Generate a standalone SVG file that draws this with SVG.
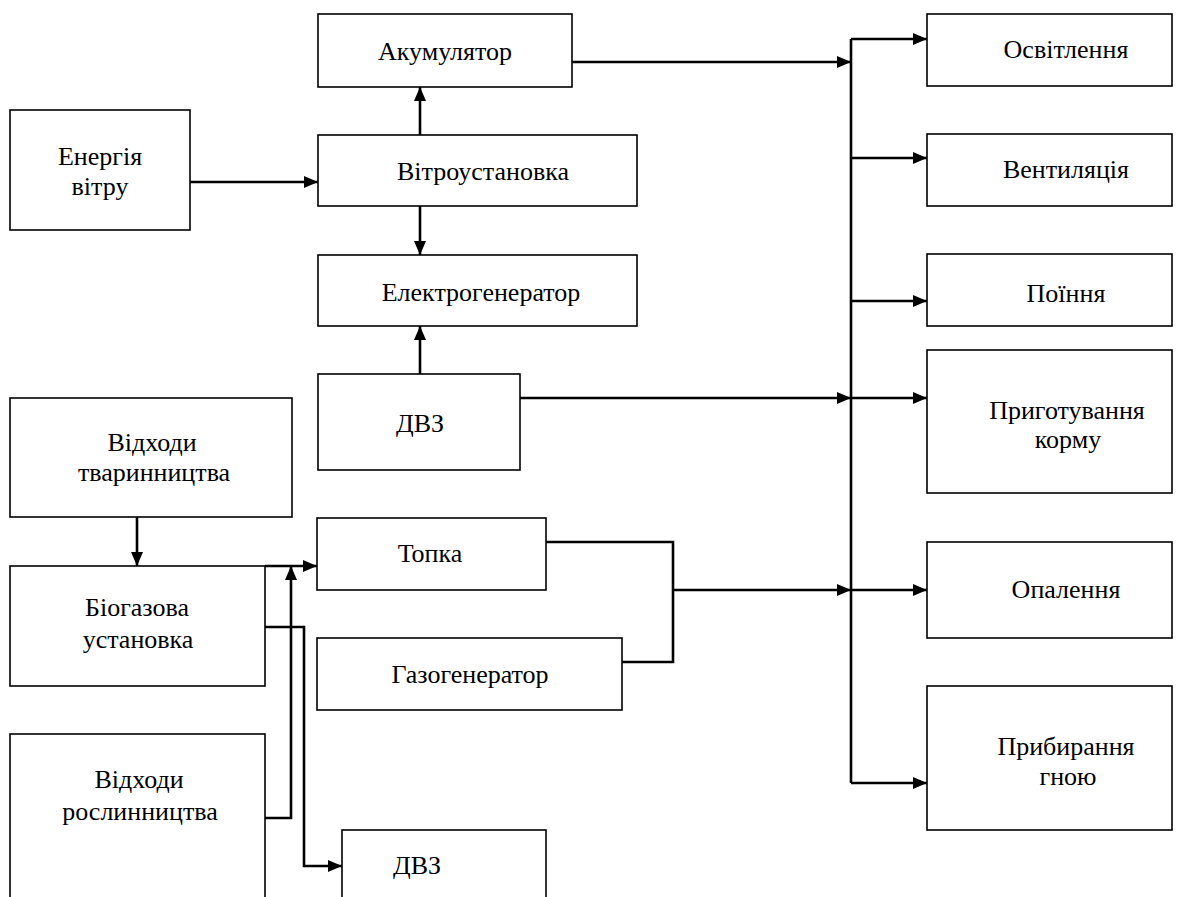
<svg xmlns="http://www.w3.org/2000/svg" width="1200" height="897" viewBox="0 0 1200 897">
<defs>
<style>
.box{fill:#fff;stroke:#000;stroke-width:1.6}
.t{font-size:26px;fill:#000;text-anchor:middle}
.c{fill:none;stroke:#000;stroke-width:2.6}
</style>
<marker id="ah" viewBox="0 0 14 12" refX="14" refY="6" markerWidth="14" markerHeight="12" markerUnits="userSpaceOnUse" orient="auto">
<path d="M0,0 L14,6 L0,12 Z" fill="#000"/>
</marker>
</defs>
<rect width="1200" height="897" fill="#fff"/>
<g font-family="Liberation Serif, DejaVu Serif, Times New Roman, serif">
<g id="n-energy"><rect class="box" x="10" y="110" width="180" height="120"/><text class="t" x="100" y="165">Енергія</text><text class="t" x="100" y="195">вітру</text></g>
<g id="n-akum"><rect class="box" x="318" y="14" width="254" height="73"/><text class="t" x="445" y="60">Акумулятор</text></g>
<g id="n-vitro"><rect class="box" x="318" y="135" width="319" height="71"/><text class="t" x="483" y="180">Вітроустановка</text></g>
<g id="n-elektro"><rect class="box" x="318" y="255" width="319" height="71"/><text class="t" x="481" y="301">Електрогенератор</text></g>
<g id="n-dvz1"><rect class="box" x="318" y="374" width="202" height="96"/><text class="t" x="420" y="432">ДВЗ</text></g>
<g id="n-tvar"><rect class="box" x="10" y="398" width="282" height="119"/><text class="t" x="152" y="451">Відходи</text><text class="t" x="154" y="481">тваринництва</text></g>
<g id="n-biogas"><rect class="box" x="10" y="566" width="255" height="120"/><text class="t" x="137" y="616">Біогазова</text><text class="t" x="138" y="648">установка</text></g>
<g id="n-rosl"><rect class="box" x="10" y="734" width="255" height="175"/><text class="t" x="139" y="788">Відходи</text><text class="t" x="140" y="820">рослинництва</text></g>
<g id="n-topka"><rect class="box" x="317" y="518" width="229" height="72"/><text class="t" x="430" y="562">Топка</text></g>
<g id="n-gazogen"><rect class="box" x="317" y="638" width="305" height="72"/><text class="t" x="470" y="683">Газогенератор</text></g>
<g id="n-dvz2"><rect class="box" x="342" y="830" width="204" height="80"/><text class="t" x="417" y="874">ДВЗ</text></g>
<g id="n-osvit"><rect class="box" x="927" y="14" width="245" height="72"/><text class="t" x="1066" y="58">Освітлення</text></g>
<g id="n-vent"><rect class="box" x="927" y="134" width="245" height="72"/><text class="t" x="1066" y="178">Вентиляція</text></g>
<g id="n-poin"><rect class="box" x="927" y="254" width="245" height="72"/><text class="t" x="1066" y="302">Поїння</text></g>
<g id="n-prygot"><rect class="box" x="927" y="350" width="245" height="143"/><text class="t" x="1067" y="419">Приготування</text><text class="t" x="1068" y="448">корму</text></g>
<g id="n-opal"><rect class="box" x="927" y="542" width="245" height="96"/><text class="t" x="1066" y="598">Опалення</text></g>
<g id="n-prybyr"><rect class="box" x="927" y="686" width="245" height="144"/><text class="t" x="1066" y="755">Прибирання</text><text class="t" x="1068" y="785">гною</text></g>
</g>
<g id="connectors">
<path class="c" d="M190,182 H318" marker-end="url(#ah)"/>
<path class="c" d="M420,135 V87" marker-end="url(#ah)"/>
<path class="c" d="M420,206 V255" marker-end="url(#ah)"/>
<path class="c" d="M420,374 V326" marker-end="url(#ah)"/>
<path class="c" d="M572,62 H851" marker-end="url(#ah)"/>
<path class="c" d="M520,398 H851" marker-end="url(#ah)"/>
<path class="c" d="M851,39 V783"/>
<path class="c" d="M851,39 H927" marker-end="url(#ah)"/>
<path class="c" d="M851,158 H927" marker-end="url(#ah)"/>
<path class="c" d="M851,301 H927" marker-end="url(#ah)"/>
<path class="c" d="M851,398 H927" marker-end="url(#ah)"/>
<path class="c" d="M851,590 H927" marker-end="url(#ah)"/>
<path class="c" d="M851,783 H927" marker-end="url(#ah)"/>
<path class="c" d="M546,542 H673 V662 H622"/>
<path class="c" d="M673,590 H851" marker-end="url(#ah)"/>
<path class="c" d="M137,517 V566" marker-end="url(#ah)"/>
<path class="c" d="M265,566 H317" marker-end="url(#ah)"/>
<path class="c" d="M265,818 H291 V566" marker-end="url(#ah)"/>
<path class="c" d="M265,627 H304 V866 H342" marker-end="url(#ah)"/>
</g>
</svg>
